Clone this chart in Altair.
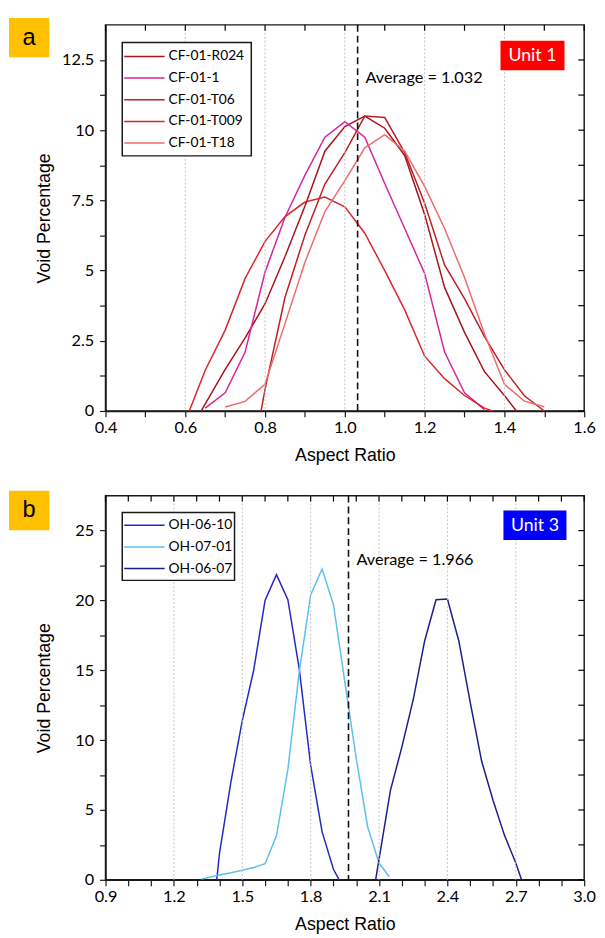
import json
import altair as alt
import pandas as pd

# ---------------- Panel a data ----------------
a_series = ["CF-01-R024", "CF-01-1", "CF-01-T06", "CF-01-T009", "CF-01-T18"]
a_colors = ["#A8141C", "#D6249E", "#BE2026", "#D8262C", "#EF6A6C"]

r024_x = [0.64, 0.70, 0.75, 0.80, 0.85, 0.90, 0.95, 1.00, 1.05, 1.10, 1.15, 1.20, 1.25, 1.30, 1.35, 1.40, 1.43]
r024_y = [0, 1.48, 2.6, 3.82, 5.5, 7.3, 9.25, 10.13, 10.5, 10.07, 9.1, 7.0, 4.4, 2.8, 1.4, 0.55, 0]
cf1_x = [0.65, 0.70, 0.75, 0.80, 0.85, 0.90, 0.95, 1.00, 1.05, 1.10, 1.15, 1.20, 1.25, 1.30, 1.35]
cf1_y = [0.1, 0.65, 2.1, 4.95, 6.9, 8.4, 9.75, 10.3, 9.75, 8.1, 6.5, 4.9, 2.1, 0.65, 0.05]
t06_x = [0.79, 0.80, 0.85, 0.90, 0.95, 1.00, 1.05, 1.10, 1.15, 1.20, 1.25, 1.30, 1.35, 1.40, 1.45, 1.50]
t06_y = [0, 0.78, 4.05, 6.27, 8.08, 9.2, 10.5, 10.45, 9.2, 7.4, 5.2, 4.0, 2.65, 1.47, 0.54, 0]
t009_x = [0.61, 0.65, 0.70, 0.75, 0.80, 0.85, 0.90, 0.95, 1.00, 1.05, 1.10, 1.15, 1.20, 1.25, 1.30, 1.35, 1.37]
t009_y = [0, 1.45, 2.88, 4.72, 6.04, 6.92, 7.44, 7.62, 7.27, 6.33, 5.0, 3.6, 1.95, 1.15, 0.55, 0.1, 0]
t18_x = [0.70, 0.75, 0.80, 0.85, 0.90, 0.95, 1.00, 1.05, 1.10, 1.15, 1.20, 1.25, 1.30, 1.35, 1.40, 1.45, 1.50]
t18_y = [0.14, 0.34, 0.96, 3.12, 5.3, 7.1, 8.2, 9.37, 9.84, 9.25, 8.0, 6.5, 4.75, 2.75, 0.95, 0.35, 0.15]

a_xticks = [0.4, 0.5, 0.6, 0.7, 0.8, 0.9, 1.0, 1.1, 1.2, 1.3, 1.4, 1.5, 1.6]
a_xmajor = [0.4, 0.6, 0.8, 1.0, 1.2, 1.4, 1.6]
a_grid = [0.6, 0.8, 1.0, 1.2, 1.4]
a_yticks = [0, 1.25, 2.5, 3.75, 5, 6.25, 7.5, 8.75, 10, 11.25, 12.5]
a_ymajor = [0, 2.5, 5, 7.5, 10, 12.5]
a_avg = 1.032

# ---------------- Panel b data ----------------
b_series = ["OH-06-10", "OH-07-01", "OH-06-07"]
b_colors = ["#2626C4", "#5CC0EC", "#1C1C8A"]

oh0610_x = [1.388, 1.40, 1.45, 1.50, 1.55, 1.60, 1.65, 1.70, 1.75, 1.80, 1.85, 1.90, 1.925]
oh0610_y = [0, 1.9, 7.0, 11.4, 15.0, 20.0, 21.85, 20.05, 15.1, 8.2, 3.45, 0.75, 0]
oh0701_x = [1.32, 1.40, 1.45, 1.50, 1.55, 1.60, 1.65, 1.70, 1.75, 1.80, 1.85, 1.90, 1.95, 2.00, 2.05, 2.10, 2.145]
oh0701_y = [0.05, 0.35, 0.5, 0.68, 0.88, 1.15, 3.15, 7.9, 14.9, 20.4, 22.25, 19.7, 14.15, 8.7, 3.8, 1.2, 0.22]
oh0607_x = [2.085, 2.15, 2.20, 2.25, 2.30, 2.35, 2.40, 2.45, 2.50, 2.55, 2.60, 2.65, 2.70, 2.725]
oh0607_y = [0, 6.4, 9.5, 12.9, 17.1, 20.05, 20.1, 17.1, 12.7, 8.5, 5.7, 3.2, 1.2, 0]

b_xticks = [0.9, 1.0, 1.1, 1.2, 1.3, 1.4, 1.5, 1.6, 1.7, 1.8, 1.9, 2.0, 2.1, 2.2,
            2.3, 2.4, 2.5, 2.6, 2.7, 2.8, 2.9, 3.0]
b_xmajor = [0.9, 1.2, 1.5, 1.8, 2.1, 2.4, 2.7, 3.0]
b_grid = [1.2, 1.5, 1.8, 2.1, 2.4, 2.7]
b_yticks = [0, 2.5, 5, 7.5, 10, 12.5, 15, 17.5, 20, 22.5, 25]
b_ymajor = [0, 5, 10, 15, 20, 25]
b_avg = 1.966


def long_df(names, xs, ys):
    rows = []
    for n, xv, yv in zip(names, xs, ys):
        for a, b in zip(xv, yv):
            rows.append({"series": n, "x": a, "y": b})
    return pd.DataFrame(rows)


a_df = long_df(a_series, [r024_x, cf1_x, t06_x, t009_x, t18_x], [r024_y, cf1_y, t06_y, t009_y, t18_y])
b_df = long_df(b_series, [oh0610_x, oh0701_x, oh0607_x], [oh0610_y, oh0701_y, oh0607_y])

LABEL_FONT = "Lato"
TITLE_FONT = "Liberation Sans"
W = 486


def panel(df, series, colors, xdom, ydom, H, xticks, xmajor, grid, yticks, ymajor,
          avg, avg_y, unit_text, unit_color, unit_box, letter, letter_box, legend_box, legend_y0):
    xscale = alt.Scale(domain=xdom, nice=False, zero=False)
    yscale = alt.Scale(domain=ydom, nice=False, zero=False)
    x_expr = f"indexof({json.dumps(xmajor)}, datum.value) >= 0 ? format(datum.value, '.1f') : ''"
    y_expr = f"indexof({json.dumps(ymajor)}, datum.value) >= 0 ? format(datum.value, '~g') : ''"
    xaxis = alt.Axis(
        values=xticks, labelExpr=x_expr, title="Aspect Ratio", grid=False,
        labelFont=LABEL_FONT, labelFontSize=16.5, labelPadding=3, labelColor="black",
        labelFlush=False, labelOverlap=False, tickSize=6,
        titleFont=TITLE_FONT, titleFontSize=18, titleFontWeight="normal", titleColor="black",
        titleX=W / 2, titleY=36, titleBaseline="top", titleAlign="center")
    yaxis = alt.Axis(
        values=yticks, labelExpr=y_expr, title="Void Percentage", grid=False,
        labelFont=LABEL_FONT, labelFontSize=16.5, labelPadding=6, labelColor="black",
        labelFlush=False, labelOverlap=False, tickSize=6,
        titleFont=TITLE_FONT, titleFontSize=18, titleFontWeight="normal", titleColor="black",
        titleX=-53, titleY=H / 2, titleAngle=270, titleBaseline="bottom", titleAlign="center")

    lines = alt.Chart(df).mark_line(strokeWidth=1.5).encode(
        x=alt.X("x:Q", scale=xscale, axis=xaxis),
        y=alt.Y("y:Q", scale=yscale, axis=yaxis),
        color=alt.Color("series:N", scale=alt.Scale(domain=series, range=colors), legend=None),
    )

    grid_l = alt.Chart(pd.DataFrame({"g": grid})).mark_rule(
        color="#c4c4c4", strokeDash=[2, 2], strokeWidth=1
    ).encode(x=alt.X("g:Q", scale=xscale, axis=xaxis))

    avg_df = pd.DataFrame({"avg": [avg], "lab": [f"Average = {avg:.3f}"]})
    avg_rule = alt.Chart(avg_df).mark_rule(color="#111111", strokeDash=[7, 4], strokeWidth=1.6).encode(
        x=alt.X("avg:Q", scale=xscale, axis=xaxis))
    avg_text = alt.Chart(avg_df).mark_text(
        align="left", baseline="middle", dx=8, font=LABEL_FONT, fontSize=16.5, color="black"
    ).encode(x=alt.X("avg:Q", scale=xscale, axis=xaxis), y=alt.value(avg_y), text="lab:N")

    top_ticks = alt.Chart(pd.DataFrame({"t": xticks})).mark_rule(color="black", strokeWidth=1.2).encode(
        x=alt.X("t:Q", scale=xscale, axis=xaxis), y=alt.value(0), y2=alt.value(6))
    right_ticks = alt.Chart(pd.DataFrame({"t": yticks})).mark_rule(color="black", strokeWidth=1.2).encode(
        y=alt.Y("t:Q", scale=yscale, axis=yaxis), x=alt.value(W - 6), x2=alt.value(W))

    ux0, ux1, uy0, uy1 = unit_box
    unit_df = pd.DataFrame({"u": [unit_text]})
    unit_rect = alt.Chart(unit_df).mark_rect(color=unit_color).encode(
        x=alt.value(ux0), x2=alt.value(ux1), y=alt.value(uy0), y2=alt.value(uy1))
    unit_lab = alt.Chart(unit_df).mark_text(
        color="white", font=LABEL_FONT, fontSize=18, align="center", baseline="middle"
    ).encode(x=alt.value((ux0 + ux1) / 2), y=alt.value((uy0 + uy1) / 2 + 1), text="u:N")

    lx0, lx1, ly0, ly1 = letter_box
    let_df = pd.DataFrame({"l": [letter]})
    let_rect = alt.Chart(let_df).mark_rect(color="#FFC000").encode(
        x=alt.value(lx0), x2=alt.value(lx1), y=alt.value(ly0), y2=alt.value(ly1))
    let_lab = alt.Chart(let_df).mark_text(
        color="black", font=TITLE_FONT, fontSize=24, align="center", baseline="middle"
    ).encode(x=alt.value((lx0 + lx1) / 2), y=alt.value((ly0 + ly1) / 2), text="l:N")

    gx0, gx1, gy0, gy1 = legend_box
    leg_rect = alt.Chart(pd.DataFrame({"k": [0]})).mark_rect(
        fill="white", stroke="#1a1a1a", strokeWidth=1.5
    ).encode(x=alt.value(gx0), x2=alt.value(gx1), y=alt.value(gy0), y2=alt.value(gy1))
    leg_layers = []
    for i, (name, col) in enumerate(zip(series, colors)):
        ly = legend_y0 + 22 * i
        d = pd.DataFrame({"name": [name]})
        leg_layers.append(alt.Chart(d).mark_rule(strokeWidth=1.5, color=col).encode(
            x=alt.value(gx0 + 2), x2=alt.value(gx0 + 43), y=alt.value(ly)))
        leg_layers.append(alt.Chart(d).mark_text(
            align="left", baseline="middle", font=LABEL_FONT, fontSize=14, color="black"
        ).encode(x=alt.value(gx0 + 47), y=alt.value(ly), text="name:N"))

    return alt.layer(
        lines, grid_l, avg_rule, top_ticks, right_ticks, leg_rect, *leg_layers,
        unit_rect, unit_lab, avg_text, let_rect, let_lab
    ).properties(width=W, height=H)


pa = panel(a_df, a_series, a_colors, [0.4, 1.6], [0, 13.75], 392, a_xticks, a_xmajor, a_grid,
           a_yticks, a_ymajor, a_avg, 54, "Unit 1", "#FF0000", (401, 466, 16, 46),
           "a", (-98, -57, -7, 33), (17, 148, 18, 133), 32)
pb = panel(b_df, b_series, b_colors, [0.9, 3.0], [0, 27.5], 390, b_xticks, b_xmajor, b_grid,
           b_yticks, b_ymajor, b_avg, 65, "Unit 3", "#0000FF", (404, 468, 15, 45),
           "b", (-98, -57, -5, 35), (17, 131, 17, 86), 30)

chart = alt.vconcat(pa, pb, spacing=25).resolve_scale(
    color="independent"
).properties(
    padding={"left": 0, "top": 2, "right": 0, "bottom": 0}
).configure_view(
    stroke="#1a1a1a", strokeWidth=1.5
).configure_axis(
    domainColor="#1a1a1a", domainWidth=1.5, tickColor="#1a1a1a", tickWidth=1.2
)

chart.save("out.html", embed_options={"renderer": "svg", "actions": False})
